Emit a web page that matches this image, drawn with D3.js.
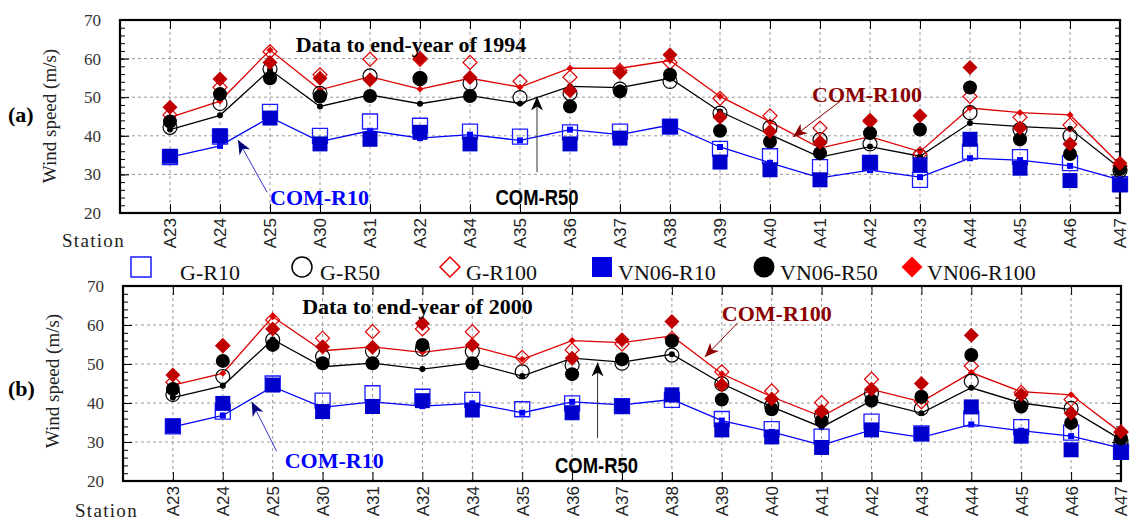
<!DOCTYPE html>
<html>
<head>
<meta charset="utf-8">
<script src="https://cdn.jsdelivr.net/npm/d3@7"></script>
<style>
body { margin: 0; background: #fff; }
svg { display: block; font-family: "Liberation Serif", "Times New Roman", serif; }
</style>
</head>
<body>
<div id="root"></div>
<script>
const stations = ["A23","A24","A25","A30","A31","A32","A34","A35","A36","A37",
                  "A38","A39","A40","A41","A42","A43","A44","A45","A46","A47"];

// (a) data to end-year of 1994
const gR10_94   = [34.5,39.8,46.2,40.0,43.7,42.6,41.1,39.8,40.9,41.1,42.4,36.6,34.7,31.9,33.0,28.6,35.9,34.5,32.9,27.5];
const gR50_94   = [42.2,48.4,57.3,51.0,55.5,54.8,53.6,49.9,51.0,52.1,54.1,45.9,42.2,39.0,37.9,34.7,46.0,41.6,40.0,31.0];
const gR100_94  = [45.4,52.6,61.8,55.8,59.8,59.8,59.0,54.1,55.2,56.9,59.0,49.7,45.2,42.0,43.8,35.3,50.2,44.8,42.8,32.2];
const vnR10_94  = [34.7,40.0,44.6,37.9,39.1,40.9,37.9,null,37.9,39.4,42.4,33.2,31.2,28.6,33.1,32.5,39.1,31.6,28.4,27.3];
const vnR50_94  = [43.7,50.8,54.9,50.2,50.3,54.9,50.3,null,47.6,51.5,55.8,41.3,38.5,35.5,40.7,41.6,52.5,39.1,35.3,31.4];
const vnR100_94 = [47.4,54.7,59.0,54.9,54.5,60.1,55.1,null,51.7,56.4,61.0,44.8,41.1,38.3,44.0,45.2,57.7,42.0,37.9,32.9];
const comR10_94 = [34.5,37.4,44.8,38.5,41.3,39.4,40.3,38.8,41.6,40.3,42.8,37.1,33.0,29.1,31.1,29.3,34.2,33.7,32.2,28.6];
const comR50_94 = [41.6,45.3,57.1,47.6,50.6,48.3,50.4,48.4,52.8,52.5,54.9,46.3,40.3,34.5,37.2,34.7,43.3,42.4,41.8,31.6];
const comR100_94= [44.8,49.0,62.2,51.9,55.3,52.1,54.9,52.6,57.5,57.5,59.5,50.2,43.6,36.8,39.8,35.9,47.2,46.0,45.4,32.5];

// (b) data to end-year of 2000
const gR10_00   = [34.0,37.8,45.0,40.6,42.5,41.6,40.8,38.4,39.9,39.2,40.8,35.9,33.3,31.4,35.2,32.2,36.0,33.8,32.4,27.5];
const gR50_00   = [42.2,46.8,56.2,51.9,53.3,53.8,53.2,48.0,49.7,50.2,52.3,44.9,39.3,36.8,42.5,38.6,45.6,39.8,38.6,30.1];
const gR100_00  = [45.3,54.7,61.3,56.6,58.3,59.0,58.3,51.7,53.6,55.1,56.6,48.0,43.1,40.1,46.1,40.3,49.5,42.7,40.9,32.5];
const vnR10_00  = [34.1,39.9,44.6,37.8,39.1,40.6,38.2,null,37.5,39.2,42.1,33.1,31.3,28.6,33.1,32.1,39.0,31.5,28.0,27.3];
const vnR50_00  = [43.6,50.8,54.9,50.2,50.2,54.9,50.2,null,47.4,51.2,55.9,40.9,38.4,35.4,40.6,41.6,52.3,39.1,34.9,30.9];
const vnR100_00 = [47.2,54.7,59.0,54.4,54.3,60.4,54.9,null,51.5,56.2,60.9,44.6,41.0,37.9,43.5,45.0,57.4,42.1,37.4,32.6];
const comR10_00 = [33.9,36.8,44.2,38.9,40.3,39.2,39.9,37.5,40.3,39.5,40.9,35.5,32.6,29.2,33.1,31.2,34.5,32.9,31.5,28.4];
const comR50_00 = [41.4,44.4,56.3,49.3,50.2,48.7,50.3,46.9,51.5,50.5,52.5,45.0,39.0,33.8,40.6,37.4,43.9,40.0,38.3,30.6];
const comR100_00= [44.6,47.6,62.1,53.4,54.4,53.0,54.6,51.2,56.0,55.5,57.2,47.5,41.6,36.5,43.5,40.3,47.8,42.9,42.1,32.4];

const yTicks = [20, 30, 40, 50, 60, 70];
const legendNames = ["G-R10", "G-R50", "G-R100", "VN06-R10", "VN06-R50", "VN06-R100"];

const W = 1130, H = 521;
const serif = "'Liberation Serif', 'Times New Roman', serif";
const sans = "'Liberation Sans', Arial, sans-serif";

const svg = d3.select("#root").append("svg")
    .attr("width", W)
    .attr("height", H);

// arrow heads
const defs = svg.append("defs");
[["navy", "#00007a"], ["blk", "#000"], ["dred", "#8b0000"]].forEach(([id, c]) => {
    defs.append("marker")
        .attr("id", "arr-" + id)
        .attr("viewBox", "-14 -7 16 14")
        .attr("refX", 0).attr("refY", 0)
        .attr("markerWidth", 16).attr("markerHeight", 14)
        .attr("markerUnits", "userSpaceOnUse")
        .attr("orient", "auto")
        .append("path")
        .attr("d", "M0,0L-14,-6L-10,0L-14,6Z")
        .attr("fill", c);
});

// marker styles for the six point series
const styles = {
    gR10:   {shape: "square",  size: 15, fill: "none",    stroke: "#1a1aff", sw: 1.3},
    gR50:   {shape: "circle",  size: 14, fill: "none",    stroke: "#000",    sw: 1.2},
    gR100:  {shape: "diamond", size: 14, fill: "none",    stroke: "#e00000", sw: 1.2},
    vnR10:  {shape: "square",  size: 15, fill: "#0000cc", stroke: "none",    sw: 0},
    vnR50:  {shape: "circle",  size: 14, fill: "#000",    stroke: "none",    sw: 0},
    vnR100: {shape: "diamond", size: 15, fill: "#c00000", stroke: "none",    sw: 0}
};

function symPath(shape, s) {
    if (shape === "circle") return d3.symbol(d3.symbolCircle, Math.PI * s * s / 4)();
    if (shape === "diamond") return d3.symbol(d3.symbolSquare, s * s / 2)();
    return d3.symbol(d3.symbolSquare, s * s)();
}

function drawPanel(p) {
    const x = d3.scaleLinear().domain([-1, stations.length - 1]).range([p.left, p.right]);
    const y = d3.scaleLinear().domain([20, 70]).range([p.bottom, p.top]);
    const g = svg.append("g");

    // dashed grid
    g.append("g").selectAll("line").data(yTicks.slice(1, -1)).join("line")
        .attr("x1", p.left).attr("x2", p.right)
        .attr("y1", d => y(d)).attr("y2", d => y(d))
        .attr("stroke", "#999").attr("stroke-dasharray", "3,3");
    g.append("g").selectAll("line").data(d3.range(stations.length - 1)).join("line")
        .attr("x1", d => x(d)).attr("x2", d => x(d))
        .attr("y1", p.top).attr("y2", p.bottom)
        .attr("stroke", "#999").attr("stroke-dasharray", "3,3");

    // y axes (ticks inside)
    const yl = g.append("g").attr("transform", "translate(" + p.left + ",0)")
        .call(d3.axisLeft(y).tickValues(yTicks).tickSize(-9).tickPadding(19).tickFormat(d3.format("d")));
    yl.select(".domain").remove();
    yl.selectAll("text").attr("font-family", serif).attr("font-size", 17).attr("fill", "#333");
    const ylm = g.append("g").attr("transform", "translate(" + p.left + ",0)")
        .call(d3.axisLeft(y).tickValues(d3.range(20, 71, 2)).tickSize(-5).tickFormat(""));
    ylm.select(".domain").remove();
    [9, 5].forEach((len, k) => {
        const yr = g.append("g").attr("transform", "translate(" + p.right + ",0)")
            .call(d3.axisRight(y).tickValues(k ? d3.range(20, 71, 2) : yTicks).tickSize(-len).tickFormat(""));
        yr.select(".domain").remove();
    });

    // x axes
    const xb = g.append("g").attr("transform", "translate(0," + p.bottom + ")")
        .call(d3.axisBottom(x).tickValues(d3.range(stations.length)).tickSize(-9).tickFormat(i => stations[i]));
    xb.select(".domain").remove();
    xb.selectAll("text")
        .attr("transform", "rotate(-90)")
        .attr("text-anchor", "end")
        .attr("x", -5).attr("y", 0).attr("dy", "0.35em")
        .attr("font-family", sans).attr("font-size", 17).attr("fill", "#222");
    const xt = g.append("g").attr("transform", "translate(0," + p.top + ")")
        .call(d3.axisTop(x).tickValues(d3.range(stations.length)).tickSize(-9).tickFormat(""));
    xt.select(".domain").remove();

    // frame
    g.append("rect")
        .attr("x", p.left).attr("y", p.top)
        .attr("width", p.right - p.left).attr("height", p.bottom - p.top)
        .attr("fill", "none").attr("stroke", "#000").attr("stroke-width", 2.2);

    // COM lines
    const line = d3.line().x((d, i) => x(i)).y(d => y(d));
    const com = [
        {vals: p.data.comR10,  color: "#0000ff", shape: "square",  size: 6},
        {vals: p.data.comR50,  color: "#000",    shape: "circle",  size: 6},
        {vals: p.data.comR100, color: "#dd0000", shape: "diamond", size: 7}
    ];
    com.forEach(c => {
        g.append("path").datum(c.vals)
            .attr("d", line)
            .attr("fill", "none").attr("stroke", c.color).attr("stroke-width", 1.3);
        g.append("g").selectAll("path").data(c.vals).join("path")
            .attr("d", symPath(c.shape, c.size))
            .attr("transform", (d, i) => "translate(" + x(i) + "," + y(d) + ")" + (c.shape === "diamond" ? "rotate(45)" : ""))
            .attr("fill", c.color);
    });

    // point series: open first, filled on top
    ["gR10", "gR50", "gR100", "vnR10", "vnR50", "vnR100"].forEach(k => {
        const s = styles[k];
        const pts = p.data[k].map((v, i) => ({i: i, v: v})).filter(d => d.v != null);
        g.append("g").selectAll("path").data(pts).join("path")
            .attr("d", symPath(s.shape, s.size))
            .attr("transform", d => "translate(" + x(d.i) + "," + y(d.v) + ")" + (s.shape === "diamond" ? "rotate(45)" : ""))
            .attr("fill", s.fill).attr("stroke", s.stroke).attr("stroke-width", s.sw);
    });

    // texts
    g.append("text")
        .attr("x", x(p.title[0])).attr("y", y(p.title[1]))
        .attr("text-anchor", "middle")
        .attr("font-family", serif).attr("font-weight", "bold").attr("font-size", 22)
        .text(p.title[2]);

    g.append("text")
        .attr("transform", "translate(" + p.ylab[0] + "," + p.ylab[1] + ")rotate(-90)")
        .attr("text-anchor", "middle")
        .attr("font-family", serif).attr("font-size", 19).attr("fill", "#222")
        .text("Wind speed (m/s)");

    g.append("text")
        .attr("x", 8).attr("y", p.tag[1])
        .attr("font-family", serif).attr("font-weight", "bold").attr("font-size", 22)
        .text(p.tag[0]);

    g.append("text")
        .attr("x", p.station[0]).attr("y", p.station[1])
        .attr("font-family", serif).attr("font-size", 19).attr("letter-spacing", "1.3px").attr("fill", "#222")
        .text("Station");

    // annotations with arrows
    p.notes.forEach(n => {
        g.append("line")
            .attr("x1", x(n.from[0])).attr("y1", y(n.from[1]))
            .attr("x2", x(n.to[0])).attr("y2", y(n.to[1]))
            .attr("stroke", n.line).attr("stroke-width", 1)
            .attr("marker-end", "url(#arr-" + n.head + ")");
        const t = g.append("text")
            .attr("x", x(n.at[0])).attr("y", y(n.at[1]))
            .attr("text-anchor", n.anchor)
            .attr("font-family", n.font).attr("font-weight", "bold").attr("font-size", 22)
            .attr("fill", n.color)
            .text(n.text);
        // the COM-R50 label is a condensed sans face
        if (n.narrow) t.attr("textLength", n.narrow).attr("lengthAdjust", "spacingAndGlyphs");
    });
}

drawPanel({
    left: 120, right: 1120, top: 20, bottom: 213,
    data: {gR10: gR10_94, gR50: gR50_94, gR100: gR100_94, vnR10: vnR10_94, vnR50: vnR50_94,
           vnR100: vnR100_94, comR10: comR10_94, comR50: comR50_94, comR100: comR100_94},
    title: [4.82, 61.6, "Data to end-year of 1994"],
    ylab: [56, 116],
    tag: ["(a)", 122],
    station: [62, 247],
    notes: [
        {text: "COM-R10", at: [2.0, 22.0], anchor: "start", from: [1.94, 25.4], to: [1.36, 38.9],
         color: "#0000ff", line: "#3333cc", head: "navy", font: serif},
        {text: "COM-R50", at: [7.34, 22.0], anchor: "middle", from: [7.34, 30.6], to: [7.34, 50.2],
         color: "#000", line: "#333", head: "blk", font: sans, narrow: 83},
        {text: "COM-R100", at: [12.84, 48.8], anchor: "start", from: [13.4, 48.9], to: [12.46, 39.7],
         color: "#8b0000", line: "#8b0000", head: "dred", font: serif}
    ]
});

drawPanel({
    left: 123, right: 1121, top: 286, bottom: 481,
    data: {gR10: gR10_00, gR50: gR50_00, gR100: gR100_00, vnR10: vnR10_00, vnR50: vnR50_00,
           vnR100: vnR100_00, comR10: comR10_00, comR50: comR50_00, comR100: comR100_00},
    title: [4.9, 62.8, "Data to end-year of 2000"],
    ylab: [59, 381],
    tag: ["(b)", 396],
    station: [75, 517],
    notes: [
        {text: "COM-R10", at: [2.24, 23.4], anchor: "start", from: [2.08, 27.6], to: [1.58, 40.3],
         color: "#0000ff", line: "#3333cc", head: "navy", font: serif},
        {text: "COM-R50", at: [8.49, 22.1], anchor: "middle", from: [8.51, 31.0], to: [8.51, 50.4],
         color: "#000", line: "#333", head: "blk", font: sans, narrow: 83},
        {text: "COM-R100", at: [11.0, 61.0], anchor: "start", from: [11.32, 60.6], to: [10.66, 51.8],
         color: "#8b0000", line: "#8b0000", head: "dred", font: serif}
    ]
});

// legend between the panels
const legendLayout = [
    {mx: 141, tx: 180, shape: "square",  size: 20, fill: "none",    stroke: "#1a1aff"},
    {mx: 302, tx: 320, shape: "circle",  size: 20, fill: "none",    stroke: "#000"},
    {mx: 450, tx: 466, shape: "diamond", size: 20, fill: "none",    stroke: "#ee0000"},
    {mx: 602, tx: 618, shape: "square",  size: 20, fill: "#0000e0", stroke: "none"},
    {mx: 764, tx: 780, shape: "circle",  size: 21, fill: "#000",    stroke: "none"},
    {mx: 912, tx: 927, shape: "diamond", size: 21, fill: "#ff0000", stroke: "none"}
];
const legend = svg.append("g");
legend.selectAll("path").data(legendLayout).join("path")
    .attr("d", d => symPath(d.shape, d.size))
    .attr("transform", d => "translate(" + d.mx + ",267)" + (d.shape === "diamond" ? "rotate(45)" : ""))
    .attr("fill", d => d.fill).attr("stroke", d => d.stroke).attr("stroke-width", 1.5);
legend.selectAll("text").data(legendNames).join("text")
    .attr("x", (d, i) => legendLayout[i].tx).attr("y", 280)
    .attr("font-family", serif).attr("font-size", 22).attr("fill", "#111")
    .text(d => d);
</script>
</body>
</html>
